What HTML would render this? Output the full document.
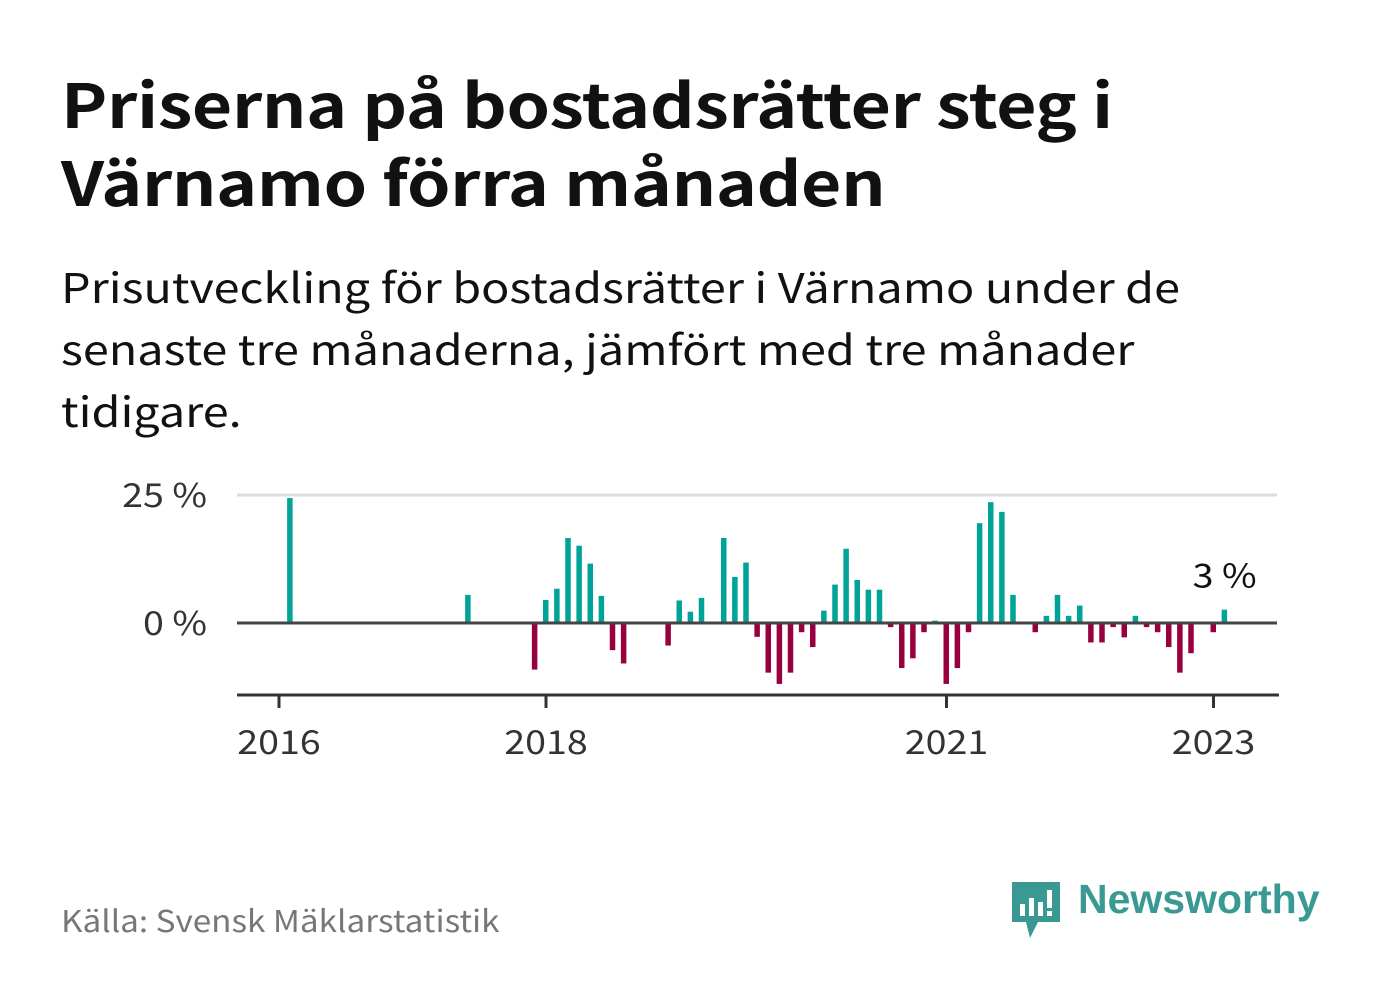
<!DOCTYPE html>
<html><head><meta charset="utf-8"><style>
body{margin:0;width:1382px;height:999px;background:#fff;font-family:"Noto Sans CJK SC","Liberation Sans",sans-serif;position:relative;overflow:hidden}
h1{position:absolute;left:61px;top:63px;margin:0;font-size:61px;line-height:78px;font-weight:700;color:#111;letter-spacing:-0.3px;transform:scaleX(1.14);transform-origin:0 0;white-space:nowrap}
p.sub{position:absolute;left:61px;top:254px;margin:0;font-size:41px;line-height:62px;color:#111;white-space:nowrap;transform:scaleX(1.14);transform-origin:0 0}
.src{position:absolute;left:61px;top:897px;font-size:30px;color:#777;transform:scaleX(1.11);transform-origin:0 0;white-space:nowrap}
</style></head><body>
<h1>Priserna på bostadsrätter steg i<br>Värnamo förra månaden</h1>
<p class="sub">Prisutveckling för bostadsrätter i Värnamo under de<br>senaste tre månaderna, jämfört med tre månader<br>tidigare.</p>
<svg id="chart" width="1382" height="999" style="position:absolute;left:0;top:0"></svg>
<div class="src">Källa: Svensk Mäklarstatistik</div>
<div style="position:absolute;left:1010px;top:878px;height:62px;">
<svg width="52" height="62" style="position:absolute;left:0;top:2px"><path d="M2 2h48v40H28l-8 16-4-16H2z" fill="#3a9a93"/><rect x="10" y="24" width="5" height="12" fill="#fff"/><rect x="19" y="18" width="5" height="18" fill="#fff"/><rect x="28" y="22" width="5" height="14" fill="#fff"/><rect x="37" y="10" width="5" height="18" fill="#fff"/><rect x="37" y="31" width="5" height="5" fill="#fff"/></svg>
<span style="position:absolute;left:68px;top:-2px;font-size:41px;font-weight:700;color:#3a9a93;white-space:nowrap;font-family:'Liberation Sans',sans-serif">Newsworthy</span></div>
<script>
const monthIdx=[1,17,23,24,25,26,27,28,29,30,31,35,36,37,38,40,41,42,43,44,45,46,47,48,49,50,51,52,53,54,55,56,57,58,59,60,61,62,63,64,65,66,68,69,70,71,72,73,74,75,76,77,78,79,80,81,82,84,85];
const values=[24.4,5.5,-9.1,4.5,6.7,16.6,15.1,11.6,5.3,-5.3,-7.9,-4.4,4.4,2.2,4.9,16.6,9.0,11.8,-2.7,-9.7,-11.9,-9.7,-1.8,-4.7,2.4,7.5,14.5,8.4,6.5,6.5,-0.8,-8.8,-6.9,-1.8,0.45,-11.9,-8.8,-1.8,19.5,23.6,21.7,5.5,-1.8,1.4,5.5,1.4,3.4,-3.8,-3.8,-0.8,-2.8,1.4,-0.8,-1.8,-4.7,-9.7,-5.9,-1.8,2.6];
const yTicks=[0,25];
const yTickLabels=["0 %","25 %"];
const xTicks=[0,24,60,84];
const xTickLabels=["2016","2018","2021","2023"];
const lastLabel="3 %";
const NS="http://www.w3.org/2000/svg";
const svg=document.getElementById('chart');
const x=i=>279+i*11.125;
const y=v=>623-v*5.12;
const FF='"Noto Sans CJK SC","Liberation Sans",sans-serif';
function mk(t,a){const e=document.createElementNS(NS,t);for(const k in a)e.setAttribute(k,a[k]);svg.appendChild(e);return e;}
function txt(px,py,anchor,fill){return mk('text',{x:0,y:0,transform:`translate(${px},${py}) scale(1.14,1)`,'text-anchor':anchor,'font-size':33,fill:fill,'font-family':FF});}
yTicks.forEach((t,k)=>{
  if(t!==0){const g=mk('line',{x1:237,x2:1277,y1:y(t),y2:y(t),stroke:'#ddd','stroke-width':3});
  
  }
  const l=txt(207,y(t)+12,'end','#333');
  l.textContent=yTickLabels[k];
  
  
});
monthIdx.forEach((m,k)=>{
  const v=values[k];
  const r=mk('rect',{x:x(m)-3,width:5.5,y:v>=0?y(v):y(0),height:Math.abs(y(v)-y(0)),fill:v>=0?'#00a397':'#98003f'});
  
  
});
const z=mk('line',{x1:237,x2:1277,y1:y(0),y2:y(0),stroke:'#444','stroke-width':3});


const ax=mk('line',{x1:237,x2:1279,y1:695,y2:695,stroke:'#333','stroke-width':3});


xTicks.forEach((t,k)=>{
  const tk=mk('line',{x1:x(t),x2:x(t),y1:695,y2:708,stroke:'#333','stroke-width':3});
  
  
  const l=txt(x(t),754,'middle','#333');
  l.textContent=xTickLabels[k];
  
  
});
const li=monthIdx.length-1;
const lb=txt(x(monthIdx[li]),y(values[li])-22,'middle','#111');
lb.textContent=lastLabel;


</script>
</body></html>
